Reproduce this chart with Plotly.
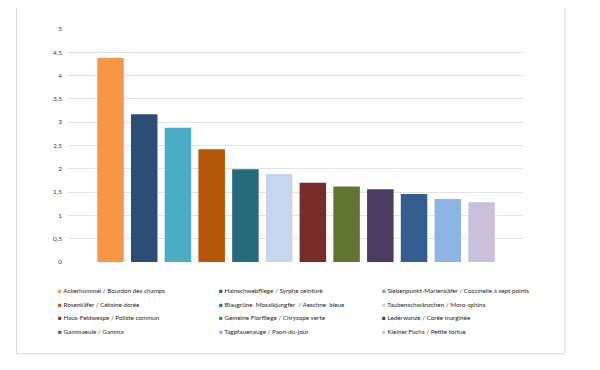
import plotly.graph_objects as go

species = [
    "Ackerhummel / Bourdon des champs",
    "Hainschwebfliege / Syrphe ceinturé",
    "Siebenpunkt-Marienkäfer / Coccinelle à sept points",
    "Rosenkäfer / Cétoine dorée",
    "Blaugrüne  Mosaikjungfer  / Aeschne  bleue",
    "Taubenschwänzchen / Moro-sphinx",
    "Haus-Feldwespe / Poliste commun",
    "Gemeine Florfliege / Chrysope verte",
    "Lederwanze / Corée marginée",
    "Gammaeule / Gamma",
    "Tagpfauenauge / Paon-du-jour",
    "Kleiner Fuchs / Petite tortue",
]
values = [4.38, 3.17, 2.88, 2.42, 1.99, 1.89, 1.70, 1.62, 1.56, 1.46, 1.35, 1.28]
y_ticks = [0, 0.5, 1, 1.5, 2, 2.5, 3, 3.5, 4, 4.5, 5]

colors = ["#F79646", "#2C4D75", "#4BACC6", "#B65708", "#276A7C", "#C6D6EE",
          "#772C2A", "#5F7530", "#4D3B62", "#345E92", "#8EB4E3", "#CAC0DB"]

FONT = "Lato, 'Open Sans', sans-serif"
W, H = 600, 370
OFF = 8  # page body margin in the browser
# target pixel positions in the screenshot
PL, PR, PT, PB = 68, 523, 29.3, 262.3
ML = PL - OFF
MT = PT - OFF
MR = W - (PR - OFF)
MB = H - (PB - OFF)
PW, PH = PR - PL, PB - PT


def px(x):
    return (x - PL) / PW


def py(y):
    return (PB - y) / PH


fig = go.Figure()
fig.add_trace(go.Bar(
    x=list(range(len(species))),
    y=values,
    marker=dict(color=colors, line=dict(width=0)),
    hovertext=species,
    showlegend=False,
))

# legend (3 columns, row-wise) as text
col_px = [56, 217, 380]
row_px = [290.7, 304.3, 318.2, 332.0]
for i, name in enumerate(species):
    r, c = divmod(i, 3)
    fig.add_annotation(
        x=px(col_px[c]), y=py(row_px[r]),
        xref="paper", yref="paper", xanchor="left", yanchor="middle",
        text=f"<span style='color:{colors[i]}'>■</span> {name}",
        showarrow=False, font=dict(family=FONT, size=6.3, color="#262626"),
    )

# outer chart frame
fig.add_shape(type="rect", xref="paper", yref="paper",
              x0=px(16.5), x1=px(565), y0=py(354), y1=py(0.5),
              line=dict(color="#D9D9D9", width=1), fillcolor="rgba(0,0,0,0)", layer="below")

fig.update_layout(
    width=W, height=H,
    margin=dict(l=ML, r=MR, t=MT, b=MB, autoexpand=False),
    paper_bgcolor="white", plot_bgcolor="white",
    separators=",.",
    bargap=0.214,
    font=dict(family=FONT, size=7, color="#404040"),
    xaxis=dict(range=[-1.26, 12.23], showticklabels=False, showgrid=False,
               zeroline=False, showline=False, ticks=""),
    yaxis=dict(range=[0, 5], tickvals=y_ticks, showgrid=True, gridcolor="#E3E3E3",
               gridwidth=1, zeroline=False, showline=False, ticks="",
               ticklabelstandoff=5, tickfont=dict(family=FONT, size=6.5, color="#404040")),
)

fig.write_html("out.html")
